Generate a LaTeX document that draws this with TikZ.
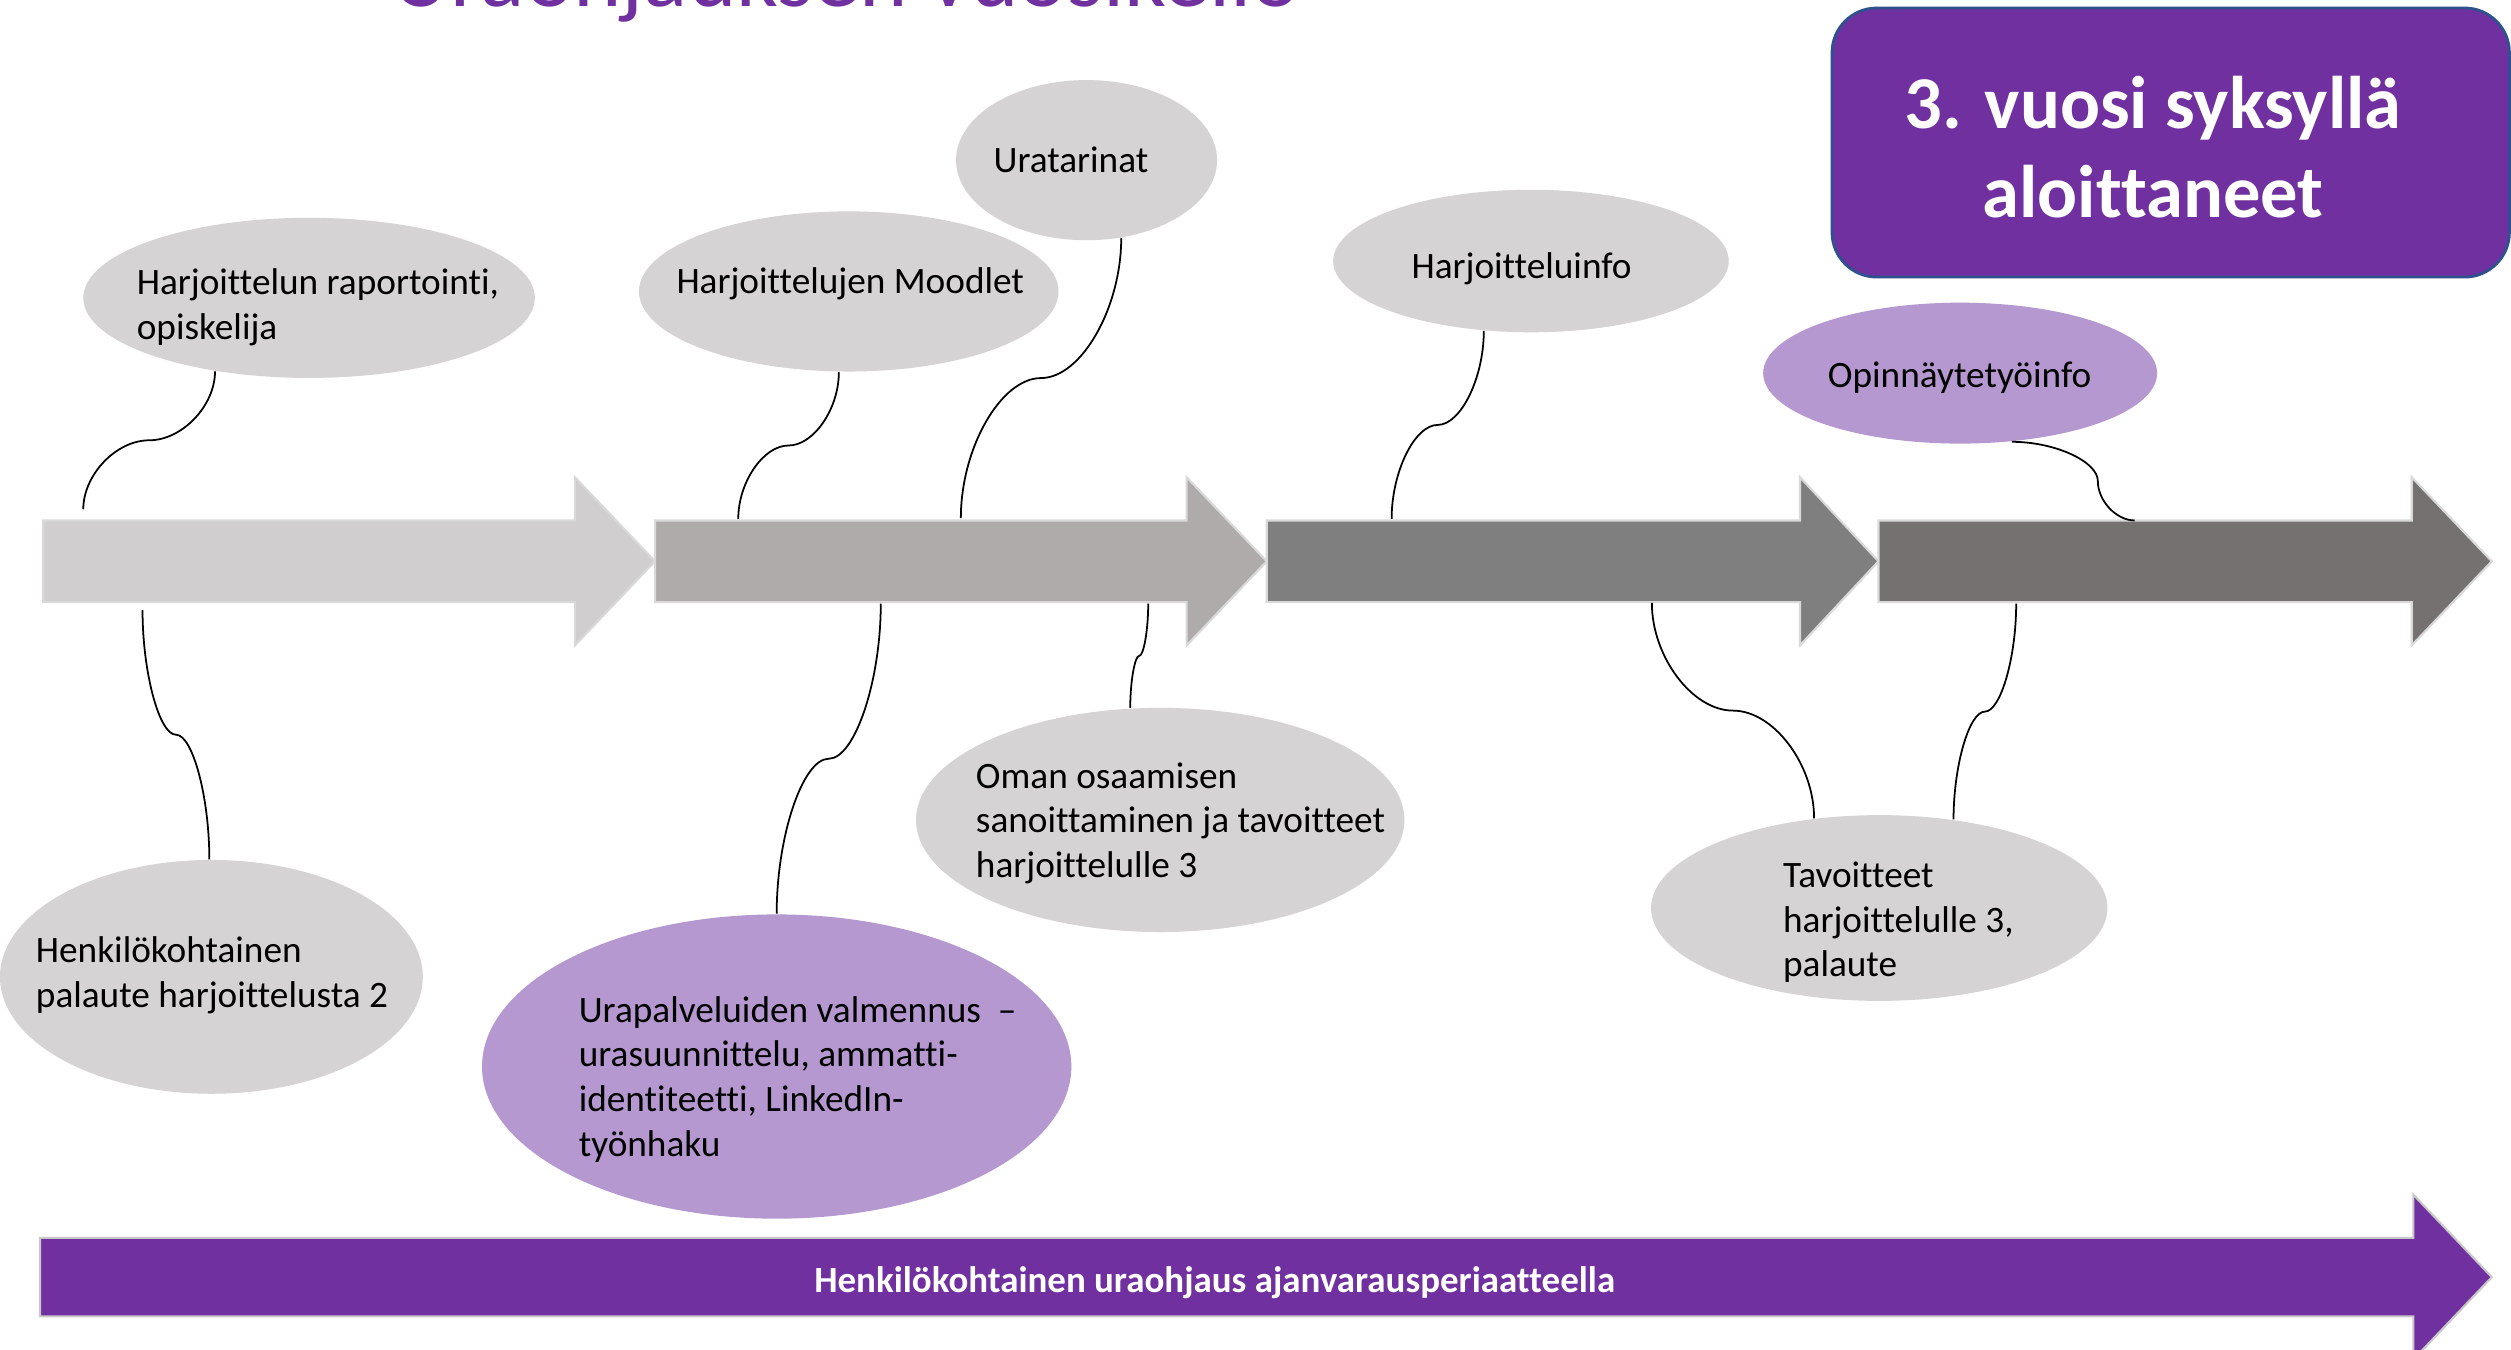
\documentclass[tikz,border=0pt]{standalone}
\usepackage{fontspec}
\setmainfont{Carlito}[Ligatures=NoCommon]
\usetikzlibrary{calc,shapes.geometric}

\definecolor{ttlpurple}{HTML}{7030A0}
\definecolor{ellgray}{HTML}{D5D3D4}
\definecolor{elllilac}{HTML}{B598CF}
\definecolor{arrA}{HTML}{D0CECF}
\definecolor{arrB}{HTML}{AFABAB}
\definecolor{arrC}{HTML}{7F7F7F}
\definecolor{arrD}{HTML}{767171}
\definecolor{boxedge}{HTML}{2F528F}
\definecolor{arredge}{HTML}{D9D9D9}
\definecolor{bandedge}{HTML}{C8C8C8}

\def\PX{0.016014cm}

\tikzset{
  graybub/.style={ellipse, fill=ellgray, draw=none, inner sep=0pt},
  lilacbub/.style={ellipse, fill=elllilac, draw=none, inner sep=0pt},
  ewh/.style 2 args={minimum width=#1*\PX, minimum height=#2*\PX},
  % multi-line texts sit on the baseline of their last line
  bubtext/.style={anchor=base west, align=left, inner sep=0pt,
    font=\fontsize{10.6}{12.7}\selectfont},
  phase/.style={draw=arredge, line width=0.6pt},
  conn/.style={draw=black, line width=0.5pt},
  % curved connector, vertical at both ends, horizontal at its middle
  vcurve/.style={to path={
    let \p1=(\tikztostart), \p2=(\tikztotarget) in
    .. controls (\x1,{0.75*\y1+0.25*\y2}) and ({0.75*\x1+0.25*\x2},{0.5*\y1+0.5*\y2})
    .. ({0.5*\x1+0.5*\x2},{0.5*\y1+0.5*\y2})
    .. controls ({0.25*\x1+0.75*\x2},{0.5*\y1+0.5*\y2}) and (\x2,{0.25*\y1+0.75*\y2})
    .. (\x2,\y2)}},
  % curved connector, horizontal at both ends, vertical at its bend
  hcurve/.style={to path={
    let \p1=(\tikztostart), \p2=(\tikztotarget) in
    .. controls ({0.65*\x1+0.35*\x2},\y1) and ({0.3*\x1+0.7*\x2},{0.75*\y1+0.25*\y2})
    .. ({0.3*\x1+0.7*\x2},{0.5*\y1+0.5*\y2})
    .. controls ({0.3*\x1+0.7*\x2},{0.25*\y1+0.75*\y2}) and ({0.15*\x1+0.85*\x2},\y2)
    .. (\x2,\y2)}}
}

\begin{document}
\begin{tikzpicture}[x=\PX, y=-\PX]
\clip (0,0) rectangle (1568,843);
\fill[white] (0,0) rectangle (1568,843);

% title, partly above the page edge
\node[anchor=base west, inner sep=0pt, text=ttlpurple,
      font=\fontsize{26.2}{30}\selectfont] (title) at (244,4) {Uraohjauksen vuosikello};

% year box
\draw[draw=boxedge, line width=0.8pt, fill=ttlpurple, rounded corners=12.7pt]
  (1144,5) rectangle (1567,173);
\node[anchor=base, align=center, inner sep=0pt, text=white,
      font=\bfseries\fontsize{21.2}{25.4}\selectfont] (yearbox) at (1344.5,136)
  {3. vuosi syksyllä\\aloittaneet};

% phase arrows
\draw[phase, fill=arrA] (27,325) -- (359,325) -- (359,298) -- (409,350.5)
  -- (359,403) -- (359,376) -- (27,376) -- cycle;
\draw[phase, fill=arrB] (409,325) -- (741,325) -- (741,298) -- (791,350.5)
  -- (741,403) -- (741,376) -- (409,376) -- cycle;
\draw[phase, fill=arrC] (791,325) -- (1124,325) -- (1124,298) -- (1173,350.5)
  -- (1124,403) -- (1124,376) -- (791,376) -- cycle;
\draw[phase, fill=arrD] (1173,325) -- (1506,325) -- (1506,298) -- (1556,350.5)
  -- (1506,403) -- (1506,376) -- (1173,376) -- cycle;

% guidance band along the bottom
\draw[draw=bandedge, line width=0.6pt, fill=ttlpurple]
  (25,773) -- (1507,773) -- (1507,746) -- (1556,797.5) -- (1507,849)
  -- (1507,822) -- (25,822) -- cycle;
\node[anchor=base, inner sep=0pt, text=white,
      font=\bfseries\fontsize{10.5}{12.7}\selectfont] (band) at (758.5,807)
  {Henkilökohtainen uraohjaus ajanvarausperiaatteella};

% event bubbles
\node[graybub, ewh={282}{100}] (e1) at (193,186) {};
\node[graybub, ewh={262}{100}] (e2) at (530,182) {};
\node[graybub, ewh={163}{100}] (e3) at (678.5,100) {};
\node[graybub, ewh={247}{89}]  (e4) at (956,163) {};
\node[lilacbub, ewh={246}{88}] (e5) at (1224,233) {};
\node[graybub, ewh={264}{146}] (e6) at (132,610) {};
\node[lilacbub, ewh={368}{190}] (e7) at (485,666) {};
\node[graybub, ewh={305}{140}] (e8) at (724.5,512) {};
\node[graybub, ewh={285}{116}] (e9) at (1173.5,567) {};

\node[bubtext] (t1) at (85,212) {Harjoittelun raportointi,\\opiskelija};
\node[bubtext] (t2) at (422,183) {Harjoittelujen Moodlet};
\node[bubtext] (t3) at (620,108) {Uratarinat};
\node[bubtext] (t4) at (881,174) {Harjoitteluinfo};
\node[bubtext] (t5) at (1141,242) {Opinnäytetyöinfo};
\node[bubtext] (t6) at (22,629) {Henkilökohtainen\\palaute harjoittelusta 2};
\node[bubtext] (t7) at (361,722) {Urapalveluiden valmennus \ –\\urasuunnittelu, ammatti-\\identiteetti, LinkedIn-\\työnhaku};
\node[bubtext] (t8) at (609,548) {Oman osaamisen\\sanoittaminen ja tavoitteet\\harjoittelulle 3};
\node[bubtext] (t9) at (1113,610) {Tavoitteet\\harjoittelulle 3,\\palaute};

% connector ends at the phase arrows
\coordinate (a1top)  at (52,318);
\coordinate (a1bot)  at (89,381);
\coordinate (a2topL) at (461,324);
\coordinate (a2topR) at (600,323.5);
\coordinate (a2botL) at (550,377);
\coordinate (a2botR) at (717,377);
\coordinate (a3top)  at (869,324);
\coordinate (a3bot)  at (1031.5,376.5);
\coordinate (a4bot)  at (1259,377);
\coordinate (a4top)  at (1333,325);

% connectors
\draw[conn] (e1.-142) to[vcurve] (a1top);
\draw[conn] (a1bot) to[vcurve] (e6.91);
\draw[conn] (e2.-97) to[vcurve] (a2topL);
\draw[conn] (e3.-66) to[vcurve] (a2topR);
\draw[conn] (a2botL) to[vcurve] (e7.90);
\draw[conn] (a2botR) to[vcurve] (e8.105);
\draw[conn] (e4.-124) to[vcurve] (a3top);
\draw[conn] (a3bot) to[vcurve] (e9.126);
\draw[conn] (a4bot) to[vcurve] (e9.50);
\draw[conn] (e5.-53) to[hcurve] (a4top);
\end{tikzpicture}
\end{document}
